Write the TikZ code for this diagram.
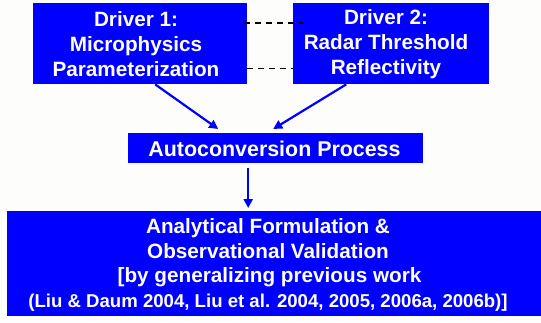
\documentclass[tikz,border=0pt]{standalone}
\usepackage{fontspec}
\setmainfont{Liberation Sans}
\usetikzlibrary{arrows.meta}
\definecolor{bg}{RGB}{253,253,251}
\definecolor{pblue}{RGB}{0,0,255}
\begin{document}
\begin{tikzpicture}[x=1pt,y=1pt,
  box/.style={fill=pblue,draw=none,inner sep=0pt,anchor=north west},
  txt/.style={text=white,font=\fontsize{20.7}{25}\selectfont\bfseries,align=center,inner sep=0pt},
  arr/.style={draw=pblue,line width=2.2pt,-{Triangle[length=9pt,width=9pt]}},
  dsh/.style={draw=black,line width=1.5pt,dash pattern=on 6pt off 5pt}]
\fill[bg] (0,0) rectangle (541,-322);
\useasboundingbox (0,0) rectangle (541,-322);
\node[box,minimum width=214pt,minimum height=81pt] (d1) at (33,-3) {};
\node[box,minimum width=196pt,minimum height=81pt] (d2) at (293,-3) {};
\node[box,minimum width=295pt,minimum height=30pt] (ac) at (128,-133) {};
\node[box,minimum width=534pt,minimum height=105pt] (fb) at (7,-211) {};
\node[txt] (t1) at (136,-44) {Driver 1:\\Microphysics\\Parameterization};
\node[txt] (t2) at (386,-44) {Driver 2:\\Radar Threshold\\Reflectivity};
\node[txt,font=\fontsize{21.4}{25}\selectfont\bfseries] (tac) at (274.5,-148.5) {Autoconversion Process};
\node[txt,anchor=base] (tf1) at (268,-233) {Analytical Formulation \&};
\node[txt,anchor=base] (tf2) at (268,-258) {Observational Validation};
\node[txt,anchor=base] (tf3) at (269.5,-282) {[by generalizing previous work};
\node[txt,anchor=base,font=\fontsize{18.6}{20}\selectfont\bfseries] (tf4) at (268,-307) {(Liu \& Daum 2004, Liu et al. 2004, 2005, 2006a, 2006b)]};
\draw[dsh] ([xshift=-3pt,yshift=-20pt]d1.north east) -- ([xshift=10pt,yshift=-20pt]d2.north west);
\draw[dsh] ([yshift=16pt]d1.south east) -- ([yshift=16pt]d2.south west);
\draw[arr] ([xshift=15pt]d1.south) -- ([xshift=-57.5pt,yshift=4pt]ac.north);
\draw[arr] ([xshift=-45pt]d2.south) -- ([xshift=-2.5pt,yshift=4pt]ac.north);
\draw[arr] ([xshift=-27.5pt,yshift=-5pt]ac.south) -- ([xshift=-26pt,yshift=3pt]fb.north);
\end{tikzpicture}
\end{document}
